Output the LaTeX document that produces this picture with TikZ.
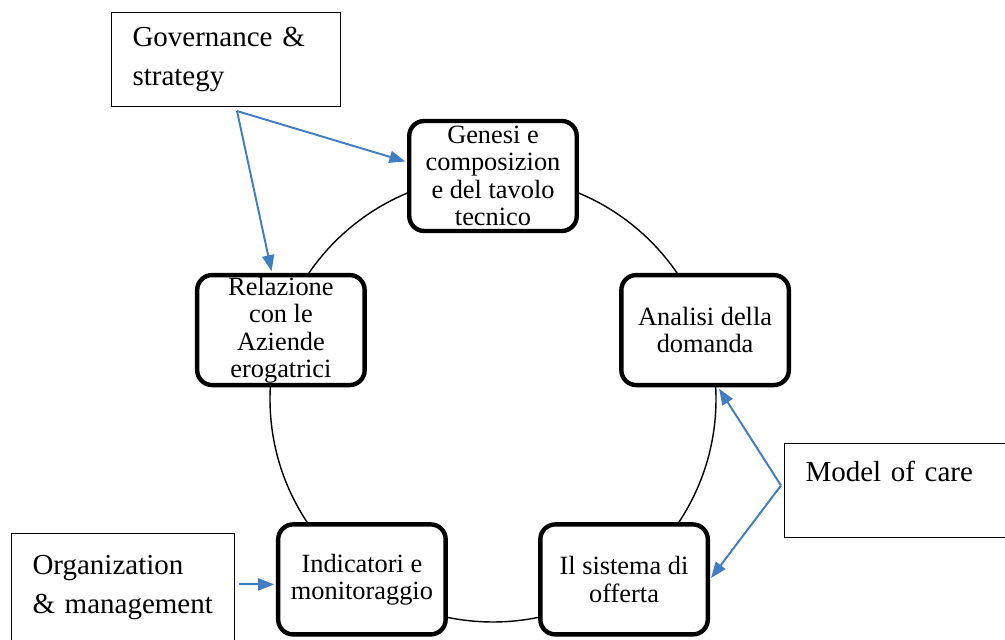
\documentclass[tikz,border=0pt]{standalone}
\usepackage{fontspec}
\setmainfont{Liberation Serif}
\usetikzlibrary{arrows.meta}
\definecolor{linkblue}{RGB}{65,125,195}
\tikzset{
        stage box/.style={
		draw, fill=white,
		line width=2.5pt, % heavy frame for the steps on the ring
		rounded corners=0.3cm,
		align=center,
		inner sep=0pt,
		minimum width=3.35cm,
		minimum height=2.2cm,
		font=\fontsize{15}{15.5}\selectfont,
	  },
  		side box/.style={
		draw, line width=0.6pt,
		anchor=north west,
		align=left,
		text width=#1,
		inner xsep=0.42cm,
		minimum height=1.88cm,
		font=\fontsize{16.5}{22}\selectfont,
	  },
  		link/.style={
		-{Triangle[length=0.32cm,width=0.24cm]},
		draw=linkblue, line width=1.1pt,
		shorten >=1pt,
      }
  	}
\begin{document}
\begin{tikzpicture}
    \useasboundingbox (-9.86,-4.82) rectangle (10.24,7.98);
    \draw[line width=0.8pt] (0,0) circle (4.46);
    % the five steps, one every 72 degrees
    \node [stage box] (gen) at (90:4.46) {Genesi e\\composizion\\e del tavolo\\tecnico};
    \node [stage box] (ana) at (18:4.46) {Analisi della\\domanda};
    \node [stage box] (sis) at (-54:4.46) {Il sistema di\\offerta};
    \node [stage box] (ind) at (-126:4.46) {Indicatori e\\monitoraggio};
    \node [stage box] (rel) at (162:4.46) {Relazione\\con le\\Aziende\\erogatrici};
    % the three areas outside the ring
    \node [side box=3.74cm] (gov) at (-7.64,7.74) {Governance \&\\strategy};
    \node [side box=3.74cm] (moc) at (5.82,-0.88) {Model of care\\\mbox{}};
    \node [side box=3.62cm, minimum height=2.8cm] (org) at (-9.64,-2.68) {Organization\\\& management\\\mbox{}};
    \coordinate (gov-out) at ([xshift=0.22cm,yshift=-0.08cm]gov.south);
    \coordinate (moc-out) at ([xshift=-0.06cm,yshift=0.1cm]moc.west);
    \draw [link] (gov-out) -- ([yshift=0.28cm]gen.west);
    \draw [link] (gov-out) -- ([xshift=-0.18cm]rel.north);
    \draw [link] (moc-out) -- ([xshift=0.26cm]ana.south);
    \draw [link] (moc-out) -- (sis.east);
    \draw [link] ([xshift=0.08cm,yshift=-0.1cm]org.east |- ind.west) -- ([yshift=-0.1cm]ind.west);
  \end{tikzpicture}
\end{document}
